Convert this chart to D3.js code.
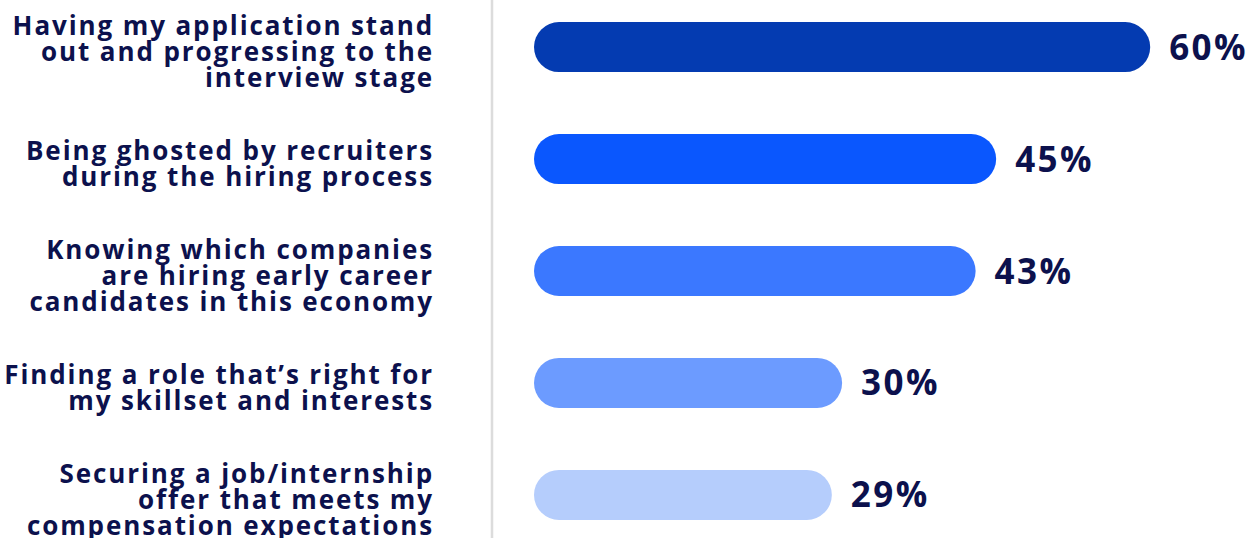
<!DOCTYPE html>
<html>
<head>
<meta charset="utf-8">
<script src="https://cdn.jsdelivr.net/npm/d3@7"></script>
<style>
  html, body { margin: 0; padding: 0; background: #ffffff; }
  svg { display: block; }
  text { font-family: "Open Sans", "DejaVu Sans", sans-serif; }
</style>
</head>
<body>
<svg id="chart" width="1254" height="538"></svg>
<script>
// Survey responses: biggest challenges in the job search
const categories = [
  ["Having my application stand", "out and progressing to the", "interview stage"],
  ["Being ghosted by recruiters", "during the hiring process"],
  ["Knowing which companies", "are hiring early career", "candidates in this economy"],
  ["Finding a role that\u2019s right for", "my skillset and interests"],
  ["Securing a job/internship", "offer that meets my", "compensation expectations"]
];
const values = [60, 45, 43, 30, 29];
const barColors = ["#043bb1", "#0a57fe", "#3b78ff", "#6c9bff", "#b5cdfc"];

const W = 1254, H = 538;
const svg = d3.select("#chart");

const barLeft = 534;
const x = d3.scaleLinear().domain([0, 100]).range([barLeft, barLeft + 1027]);
const y = d3.scaleBand()
  .domain(d3.range(values.length))
  .range([-8.9, 550.9])
  .paddingInner(0.553)
  .paddingOuter(0.2765);

const barH = y.bandwidth();
const ink = "#0c114d";

// vertical divider between labels and bars
svg.append("line")
  .attr("x1", 492).attr("x2", 492)
  .attr("y1", 0).attr("y2", H)
  .attr("stroke", "#dcdcdc")
  .attr("stroke-width", 2.5);

// rounded bars
svg.append("g").selectAll("rect")
  .data(values)
  .join("rect")
  .attr("x", x(0))
  .attr("y", (d, i) => y(i))
  .attr("width", d => x(d) - x(0))
  .attr("height", barH)
  .attr("rx", barH / 2)
  .attr("ry", barH / 2)
  .attr("fill", (d, i) => barColors[i]);

// value labels
svg.append("g").selectAll("text")
  .data(values)
  .join("text")
  .attr("x", d => x(d) + 19)
  .attr("y", (d, i) => y(i) + barH / 2 + 12.5)
  .attr("fill", ink)
  .attr("font-size", 35)
  .attr("font-weight", 700)
  .attr("letter-spacing", 2.4)
  .text(d => d + "%");

// category labels, right aligned against the divider
const lineH = 26.3;
const labels = svg.append("g").selectAll("text")
  .data(categories)
  .join("text")
  .attr("text-anchor", "end")
  .attr("fill", ink)
  .attr("font-size", 26)
  .attr("font-weight", 700)
  .attr("letter-spacing", 1.9)
  .attr("y", (d, i) => y(i) + barH / 2 + 14 - (d.length - 1) * lineH / 2);

labels.selectAll("tspan")
  .data(d => d)
  .join("tspan")
  .attr("x", 434)
  .attr("dy", (d, j) => j === 0 ? 0 : lineH)
  .text(d => d);
</script>
</body>
</html>
